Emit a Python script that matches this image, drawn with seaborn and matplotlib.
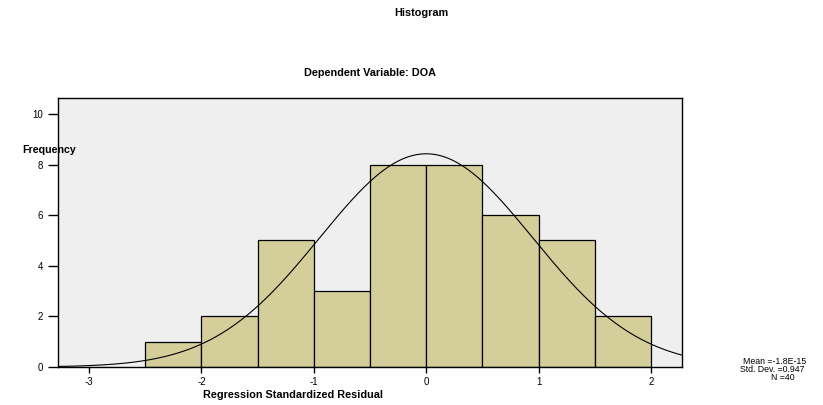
import numpy as np
import matplotlib
matplotlib.use("Agg")
import matplotlib.pyplot as plt
import seaborn as sns

bin_edges = [-2.5, -2.0, -1.5, -1.0, -0.5, 0.0, 0.5, 1.0, 1.5, 2.0]
counts = [1, 2, 5, 3, 8, 8, 6, 5, 2]
mean_val = -1.8e-15
std_val = 0.947
n_val = 40
x_ticks = [-3, -2, -1, 0, 1, 2]
y_ticks = [0, 2, 4, 6, 8, 10]

sns.set_style("white")
plt.rcParams['font.family'] = ['Liberation Sans', 'DejaVu Sans']
plt.rcParams['text.color'] = 'black'
plt.rcParams['xtick.color'] = 'black'
plt.rcParams['ytick.color'] = 'black'

fig = plt.figure(figsize=(8.23, 4.05), dpi=100)
W, H = 823, 405
ax = fig.add_axes([58 / W, 1 - 367 / H, (682 - 58) / W, (367 - 98) / H])
ax.set_facecolor('#efefef')

centers = [(a + b) / 2 for a, b in zip(bin_edges[:-1], bin_edges[1:])]
sns.histplot(x=centers, weights=counts, bins=bin_edges, ax=ax,
             color='#d3ce9a', edgecolor='black', linewidth=0.9, alpha=1.0)

xs = np.linspace(-3.3, 2.3, 400)
width = bin_edges[1] - bin_edges[0]
ys = n_val * width / (std_val * np.sqrt(2 * np.pi)) * np.exp(-0.5 * ((xs - mean_val) / std_val) ** 2)
sns.lineplot(x=xs, y=ys, ax=ax, color='black', linewidth=0.8)

ax.set_xlim(-3.276, 2.276)
ax.set_ylim(0, 10.63)
ax.set_xticks(x_ticks)
ax.set_yticks(y_ticks)
ax.set_xticklabels([str(t) for t in x_ticks], fontsize=7)
ax.set_yticklabels([str(t) for t in y_ticks], fontsize=7)
ax.tick_params(axis='x', bottom=True, direction='out', length=4.5, width=1, color='black', pad=3, labelcolor='black')
ax.tick_params(axis='y', left=True, direction='out', length=7, width=1, color='black', pad=3.5, labelcolor='black')
for s in ax.spines.values():
    s.set_color('black')
    s.set_linewidth(1)
ax.set_xlabel('')
ax.set_ylabel('')

fig.text(421 / W, 1 - 13 / H, 'Histogram', ha='center', va='center', fontsize=7.8, fontweight='bold', color='black')
fig.text(370 / W, 1 - 73 / H, 'Dependent Variable: DOA', ha='center', va='center', fontsize=7.8, fontweight='bold', color='black')
fig.text(293 / W, 1 - 395 / H, 'Regression Standardized Residual', ha='center', va='center', fontsize=7.8, fontweight='bold', color='black')
fig.text(22 / W, 1 - 150 / H, 'Frequency', ha='left', va='center', fontsize=7.7, fontweight='bold', color='black')

fig.text(806 / W, 1 - 362 / H, 'Mean =-1.8E-15', ha='right', va='center', fontsize=6.3, color='black')
fig.text(805 / W, 1 - 370 / H, f'Std. Dev. ={std_val}', ha='right', va='center', fontsize=6.3, color='black')
fig.text(795 / W, 1 - 378 / H, f'N ={n_val}', ha='right', va='center', fontsize=6.3, color='black')

fig.savefig('out.png', dpi=100, facecolor='white')
